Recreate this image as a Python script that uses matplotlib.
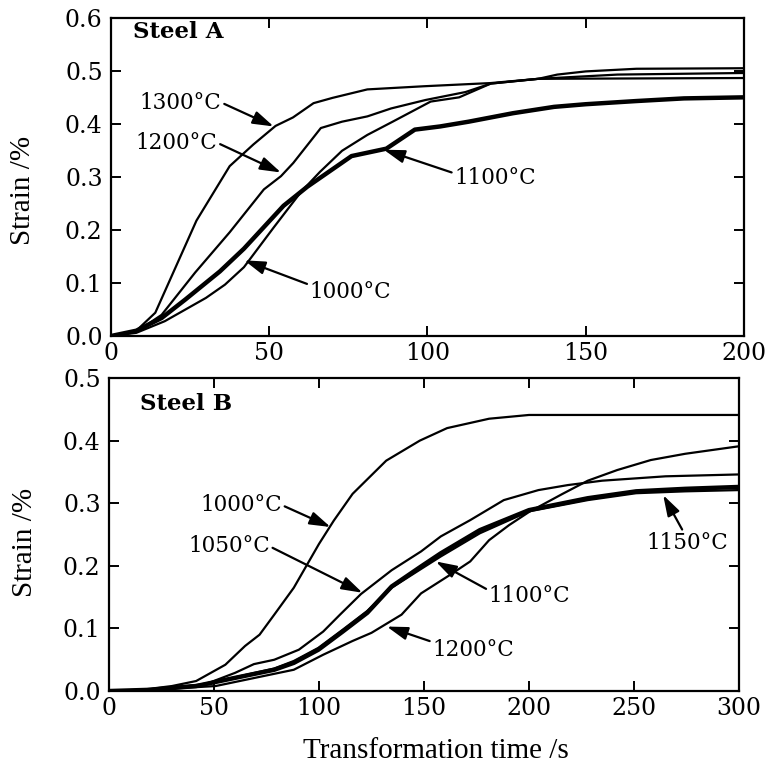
import matplotlib
matplotlib.use("Agg")
import matplotlib.pyplot as plt
from matplotlib.ticker import FormatStrFormatter, MultipleLocator

# Steel A: strain (%) vs transformation time (s)
a_t_1300 = [0, 8, 14, 27, 37.5, 45, 52, 57.5, 64, 70, 81, 99, 120, 135, 200]
a_s_1300 = [0, 0.01, 0.044, 0.218, 0.321, 0.362, 0.397, 0.413, 0.44, 0.45, 0.466, 0.472, 0.478, 0.486, 0.4875]

a_t_1200 = [0, 8, 16, 26.6, 37.5, 48.3, 53.7, 57.6, 66.3, 73, 81, 88.5, 99.4, 112, 120, 135, 160, 200]
a_s_1200 = [0, 0.008, 0.04, 0.12, 0.196, 0.277, 0.302, 0.327, 0.393, 0.405, 0.415, 0.43, 0.446, 0.461, 0.477, 0.486, 0.494, 0.497]

a_t_1100 = [0, 8, 16, 23.5, 34.4, 42, 54.5, 62, 76, 87, 96, 104, 113, 127, 140, 150, 166, 181, 200]
a_s_1100 = [0, 0.01, 0.034, 0.069, 0.122, 0.165, 0.246, 0.282, 0.34, 0.354, 0.39, 0.396, 0.405, 0.421, 0.433, 0.438, 0.444, 0.449, 0.451]

a_t_1000 = [0, 8, 17, 30, 36, 42, 51.4, 60, 66, 73, 81, 89, 101, 110, 120, 135, 141, 150, 166, 200]
a_s_1000 = [0, 0.006, 0.028, 0.072, 0.097, 0.13, 0.205, 0.272, 0.31, 0.35, 0.38, 0.405, 0.443, 0.451, 0.477, 0.486, 0.494, 0.5, 0.505, 0.506]

# Steel B
b_t_1000 = [0, 10, 18, 30, 41.5, 55.4, 64.8, 71.7, 78.7, 88, 94, 100, 107, 116, 132, 148, 161, 181, 200, 300]
b_s_1000 = [0, 0, 0.003, 0.008, 0.016, 0.042, 0.072, 0.09, 0.122, 0.165, 0.2, 0.235, 0.272, 0.315, 0.368, 0.4, 0.42, 0.435, 0.441, 0.441]

b_t_1050 = [0, 20, 46, 60, 69, 78.7, 90.4, 102, 110, 120, 134.6, 148.6, 158, 172, 188, 204.5, 218.5, 234.8, 265, 300]
b_s_1050 = [0, 0.003, 0.011, 0.029, 0.043, 0.05, 0.066, 0.095, 0.122, 0.155, 0.193, 0.223, 0.247, 0.273, 0.305, 0.321, 0.329, 0.336, 0.343, 0.346]

b_t_1100 = [0, 20, 41.5, 60, 78.7, 88, 99.7, 111.3, 123, 134.6, 148.6, 158, 176.6, 200, 228, 251, 274.4, 300]
b_s_1100 = [0, 0.002, 0.008, 0.021, 0.034, 0.045, 0.066, 0.095, 0.125, 0.167, 0.199, 0.22, 0.257, 0.289, 0.308, 0.319, 0.323, 0.326]

b_t_1150 = [0, 20, 41.5, 60, 78.7, 88, 99.7, 111.3, 123, 134.6, 148.6, 158, 176.6, 200, 228, 251, 274.4, 300]
b_s_1150 = [0, 0.002, 0.009, 0.022, 0.036, 0.048, 0.069, 0.098, 0.128, 0.165, 0.195, 0.215, 0.252, 0.287, 0.305, 0.316, 0.319, 0.321]

b_t_1200 = [0, 20, 50.8, 69.4, 88, 102, 116, 125, 139.3, 148.6, 162.6, 172, 181, 190.5, 200, 216, 228, 242, 258, 274.4, 300]
b_s_1200 = [0, 0.002, 0.008, 0.021, 0.034, 0.058, 0.08, 0.093, 0.122, 0.156, 0.186, 0.207, 0.241, 0.265, 0.286, 0.315, 0.336, 0.353, 0.369, 0.379, 0.391]

# labels: text, text position, arrow tip, arrow start (relative to text box)
a_labels = ["1300°C", "1200°C", "1100°C", "1000°C"]
a_text_xy = [(22.0, 0.441), (20.7, 0.365), (121.4, 0.299), (75.7, 0.084)]
a_tip_xy = [(51.4, 0.396), (53.7, 0.309), (86.2, 0.352), (42.1, 0.143)]
a_relpos = [(1, 0.5), (1, 0.5), (0, 0.7), (0, 0.8)]

b_labels = ["1000°C", "1050°C", "1100°C", "1200°C", "1150°C"]
b_text_xy = [(62.9, 0.297), (57.1, 0.231), (200.3, 0.152), (173.5, 0.066), (275.6, 0.236)]
b_tip_xy = [(105.5, 0.262), (120.7, 0.157), (155.6, 0.207), (132.3, 0.103), (263.9, 0.313)]
b_relpos = [(1, 0.5), (1, 0.5), (0, 0.75), (0, 0.85), (0.45, 1.0)]

TICK_FONT = "DejaVu Serif"
LABEL_FONT = "Liberation Serif"


def style_axes(ax, xmax, ymax, xstep):
    ax.set_xlim(0, xmax)
    ax.set_ylim(0, ymax)
    ax.xaxis.set_major_locator(MultipleLocator(xstep))
    ax.yaxis.set_major_locator(MultipleLocator(0.1))
    ax.yaxis.set_major_formatter(FormatStrFormatter("%.1f"))
    ax.tick_params(direction="in", length=7, width=1.4, top=True, right=True,
                   labelsize=17)
    ax.tick_params(axis="x", pad=4)
    ax.tick_params(axis="y", pad=6)
    for lab in ax.get_xticklabels() + ax.get_yticklabels():
        lab.set_fontfamily(TICK_FONT)
    for sp in ax.spines.values():
        sp.set_linewidth(1.6)


def add_labels(ax, labels, text_xy, tip_xy, relpos):
    for lab, txy, pxy, rp in zip(labels, text_xy, tip_xy, relpos):
        ax.annotate(lab, xy=pxy, xytext=txy, ha="center", va="center",
                    fontsize=15.5, fontfamily=TICK_FONT,
                    arrowprops=dict(arrowstyle="-|>,head_length=0.7,head_width=0.22",
                                    mutation_scale=18, lw=1.6, color="black",
                                    shrinkA=0, shrinkB=0, relpos=rp))


fig = plt.figure(figsize=(7.67, 7.64), dpi=100)
ax1 = fig.add_axes([0.1447, 0.5602, 0.8253, 0.4156])
ax2 = fig.add_axes([0.1421, 0.0955, 0.8214, 0.4097])

thin = 1.6
thick = 3.2

ax1.plot(a_t_1300, a_s_1300, color="black", lw=thin)
ax1.plot(a_t_1200, a_s_1200, color="black", lw=thin)
ax1.plot(a_t_1000, a_s_1000, color="black", lw=thin)
ax1.plot(a_t_1100, a_s_1100, color="black", lw=thick)
style_axes(ax1, 200, 0.6, 50)
add_labels(ax1, a_labels, a_text_xy, a_tip_xy, a_relpos)
ax1.text(6.8, 0.574, "Steel A", fontsize=16.5, fontweight="bold",
         fontfamily=TICK_FONT, va="center", ha="left")
ax1.set_ylabel("Strain /%", fontsize=21, fontfamily=LABEL_FONT)
ax1.yaxis.set_label_coords(-0.118, 0.46)

ax2.plot(b_t_1000, b_s_1000, color="black", lw=thin)
ax2.plot(b_t_1050, b_s_1050, color="black", lw=thin)
ax2.plot(b_t_1200, b_s_1200, color="black", lw=thin)
ax2.plot(b_t_1100, b_s_1100, color="black", lw=thick)
ax2.plot(b_t_1150, b_s_1150, color="black", lw=thin)
style_axes(ax2, 300, 0.5, 50)
add_labels(ax2, b_labels, b_text_xy, b_tip_xy, b_relpos)
ax2.text(14.7, 0.4586, "Steel B", fontsize=16.5, fontweight="bold",
         fontfamily=TICK_FONT, va="center", ha="left")
ax2.set_ylabel("Strain /%", fontsize=21, fontfamily=LABEL_FONT)
ax2.yaxis.set_label_coords(-0.112, 0.476)
ax2.set_xlabel("Transformation time /s", fontsize=21, fontfamily=LABEL_FONT)
ax2.xaxis.set_label_coords(0.519, -0.15)

fig.savefig("out.png", dpi=100)
